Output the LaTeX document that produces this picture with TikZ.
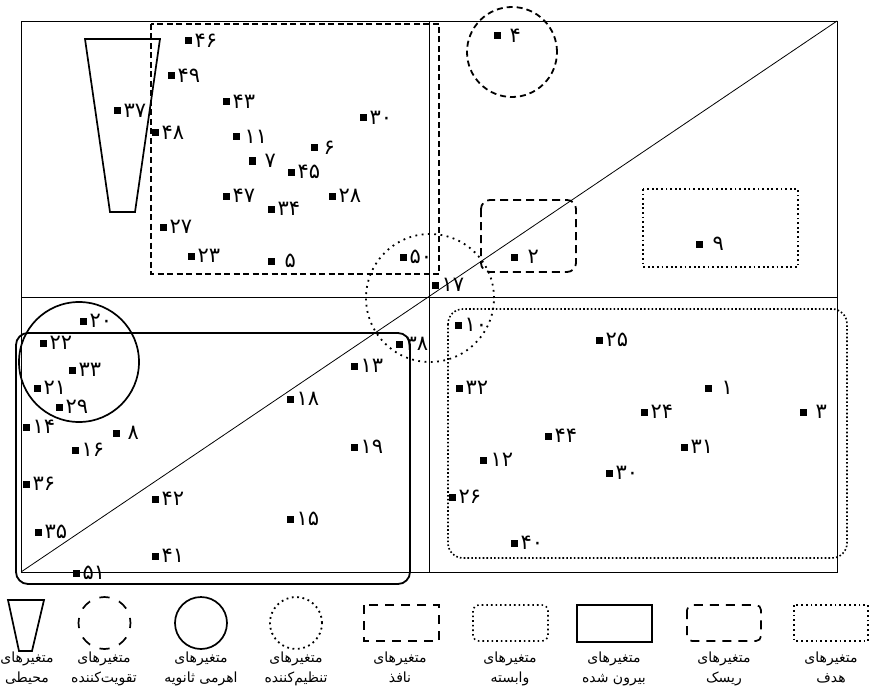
\documentclass[tikz,border=0pt]{standalone}
\usepackage{fontspec}
\TeXXeTstate=1
\newfontfamily\arabicfont[Script=Arabic]{DejaVu Sans}
\begin{document}
\begin{tikzpicture}[x=1pt,y=-1pt,
  sq/.style={fill=black, minimum size=7pt, inner sep=0pt, outer sep=0pt},
  lbl/.style={font=\arabicfont\fontsize{21}{21}\selectfont, inner sep=0pt, anchor=west},
  leg/.style={font=\arabicfont\fontsize{14}{20}\selectfont, align=center, inner sep=0pt, anchor=north},
  frame/.style={line width=0.8pt},
  nafez/.style={line width=1.8pt, dash pattern=on 6pt off 3.5pt},
  taqviat/.style={line width=1.8pt, dash pattern=on 6pt off 4pt},
  risk/.style={line width=1.8pt, dash pattern=on 8pt off 5pt, rounded corners=9pt},
  hadaf/.style={line width=1.8pt, dash pattern=on 1.8pt off 2.8pt},
  tanzim/.style={line width=1.8pt, dash pattern=on 1.8pt off 4.5pt},
  vabaste/.style={line width=1.6pt, dash pattern=on 1.6pt off 2.2pt, rounded corners=15pt},
  biroon/.style={line width=1.8pt, rounded corners=12pt},
  ahrami/.style={line width=1.7pt},
  mohiti/.style={line width=1.7pt}
]
\useasboundingbox (0,0) rectangle (870,698);
\fill[white] (0,0) rectangle (870,698);

% frame
\coordinate (TL) at (21,21);
\coordinate (BR) at (837,572);
\draw[frame] (TL) rectangle (BR);
\draw[frame] (21,297) -- (837,297);
\draw[frame] (429,21) -- (429,572);
\draw[frame] (21,572) -- (837,21);

% groups
\draw[nafez] (151,24) rectangle (439,274);
\draw[mohiti] (85,39) -- (160,39) -- (135,212) -- (110,212) -- cycle;
\draw[taqviat] (512,52) circle[radius=45pt];
\draw[risk] (481,200) rectangle (576,272);
\draw[hadaf] (643,189) rectangle (798,267);
\draw[tanzim] (430,298) circle[radius=64pt];
\draw[vabaste] (448,309) rectangle (847,558);
\draw[biroon] (16,333) rectangle (410,584);
\draw[ahrami] (79,362) circle[radius=60pt];

% points
\foreach \i/\x/\y/\t/\g in {
1/188/41/۴۶/3, 2/171/76/۴۹/3, 3/117/111/۳۷/3, 4/155/133/۴۸/3,
5/226/102/۴۳/3, 6/236/137/۱۱/5, 7/252/161/۷/9, 8/314/148/۶/6,
9/363/118/۳۰/3, 10/291/172/۴۵/3, 11/226/196/۴۷/3, 12/271/209/۳۴/3,
13/332/196/۲۸/3, 14/163/227/۲۷/3, 15/191/256/۲۳/3, 16/271/261/۵/10,
17/403/257/۵۰/3, 18/435/285/۱۷/3, 19/399/344/۳۸/3, 20/458/325/۱۰/3,
21/497/36/۴/9, 22/514/257/۲/10, 23/699/244/۹/10, 24/83/321/۲۰/3,
25/43/343/۲۲/3, 26/72/370/۳۳/3, 27/37/388/۲۱/3, 28/59/407/۲۹/3,
29/26/427/۱۴/3, 30/116/433/۸/8, 31/75/450/۱۶/3, 32/26/484/۳۶/3,
33/38/532/۳۵/3, 34/76/573/۵۱/3, 35/155/499/۴۲/3, 36/155/556/۴۱/3,
37/290/399/۱۸/3, 38/290/519/۱۵/3, 39/354/366/۱۳/3, 40/354/447/۱۹/3,
41/599/340/۲۵/3, 42/459/388/۳۲/3, 43/708/388/۱/10, 44/644/412/۲۴/3,
45/803/412/۳/9, 46/548/436/۴۴/3, 47/684/447/۳۱/3, 48/483/460/۱۲/4,
49/609/473/۳۰/3, 50/452/497/۲۶/3, 51/514/543/۴۰/3}
{
  \node[sq] (s\i) at (\x,\y) {};
  \node[lbl] (t\i) at ([xshift=\g pt]s\i.east) {\t};
}

% legend symbols
\draw[mohiti] (8,600) -- (44,600) -- (32,651) -- (19,651) -- cycle;
\draw[line width=1.7pt, dash pattern=on 10.2pt off 10.2pt, dash phase=5.1pt] (104.5,623) circle[radius=26pt];
\draw[ahrami] (201,623) circle[radius=26pt];
\draw[line width=1.8pt, dash pattern=on 1.8pt off 3.6pt] (296,623) circle[radius=26pt];
\draw[line width=1.7pt, dash pattern=on 9pt off 7pt] (364,605) rectangle (439,641);
\draw[line width=1.6pt, dash pattern=on 1.6pt off 3pt, rounded corners=6pt] (473,605) rectangle (548,641);
\draw[line width=1.8pt] (577,605) rectangle (652,642);
\draw[line width=1.7pt, dash pattern=on 9pt off 7pt, rounded corners=5pt] (687,605) rectangle (761,641);
\draw[line width=1.8pt, dash pattern=on 1.8pt off 3pt] (794,605) rectangle (868,641);

% legend labels
\node[leg] (L1) at (27,652) {\beginR متغیرهای\endR\\\beginR محیطی\endR};
\node[leg] (L2) at (104,652) {\beginR متغیرهای\endR\\\beginR تقویت‌کننده\endR};
\node[leg] (L3) at (201,652) {\beginR متغیرهای\endR\\\beginR اهرمی ثانویه\endR};
\node[leg] (L4) at (296,652) {\beginR متغیرهای\endR\\\beginR تنظیم‌کننده\endR};
\node[leg] (L5) at (400,652) {\beginR متغیرهای\endR\\\beginR نافذ\endR};
\node[leg] (L6) at (510,652) {\beginR متغیرهای\endR\\\beginR وابسته\endR};
\node[leg] (L7) at (614,652) {\beginR متغیرهای\endR\\\beginR بیرون شده\endR};
\node[leg] (L8) at (724,652) {\beginR متغیرهای\endR\\\beginR ریسک\endR};
\node[leg] (L9) at (831,652) {\beginR متغیرهای\endR\\\beginR هدف\endR};
\end{tikzpicture}
\end{document}
